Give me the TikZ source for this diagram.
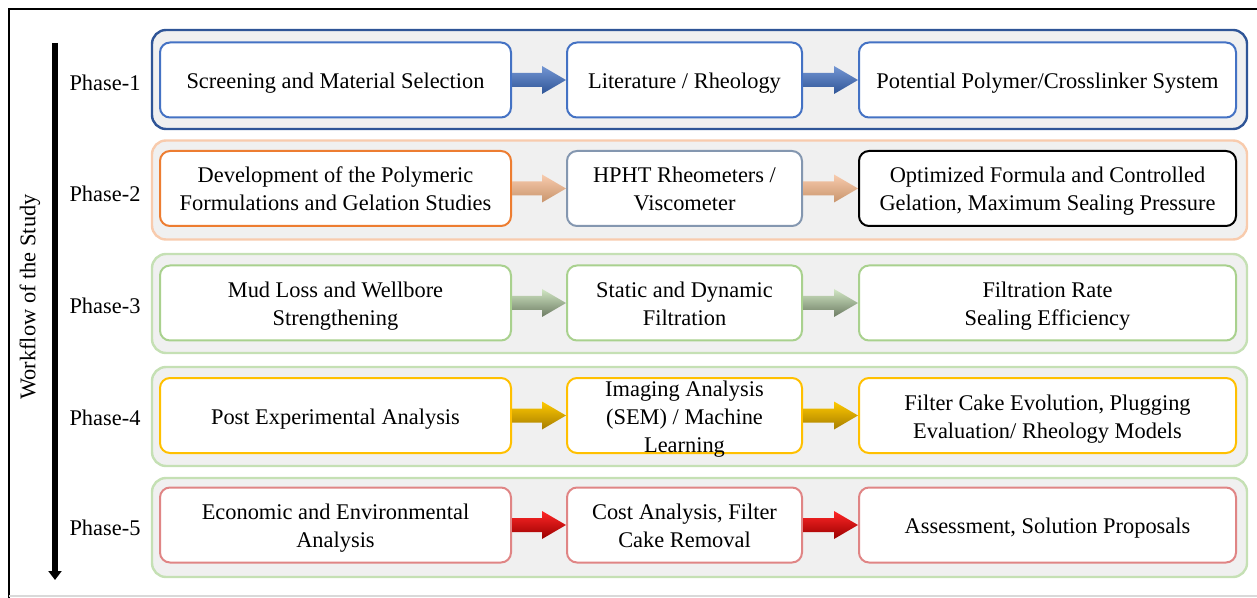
\documentclass[tikz,border=0pt]{standalone}
\usepackage{fontspec}
\setmainfont{Liberation Serif}
\usetikzlibrary{calc,arrows.meta}
\definecolor{navyedge}{HTML}{2F5597}
\definecolor{peachedge}{HTML}{F8CBAD}
\definecolor{tanshade}{HTML}{C8946C}
\definecolor{leafedge}{HTML}{C5E0B4}
\definecolor{blueline}{HTML}{4472C4}
\definecolor{orangeline}{HTML}{ED7D31}
\definecolor{slateline}{HTML}{8497B0}
\definecolor{greenline}{HTML}{A9D18E}
\definecolor{goldline}{HTML}{FFC000}
\definecolor{redline}{HTML}{E08585}
\begin{document}
\begin{tikzpicture}[x=0.5pt,y=-0.5pt]
        		\tikzstyle{panel}=[rounded corners=7pt,line width=1.2pt,fill=black!6,minimum width=547.5pt,minimum height=49.5pt]
        		\tikzstyle{stage}=[rounded corners=5pt,line width=1pt,fill=white,align=flush center,minimum height=37.5pt,inner xsep=3pt,font=\fontsize{11.2}{14}\selectfont,execute at begin node={\rule{0pt}{12pt}},execute at end node={\rule[-3.5pt]{0pt}{3.5pt}}]
        		\tikzstyle{first}=[stage,text width=169pt,minimum width=175.5pt]
        		\tikzstyle{middle}=[stage,text width=111pt,minimum width=117.5pt]
        		\tikzstyle{last}=[stage,text width=182pt,minimum width=188.5pt]
        		\tikzstyle{phase}=[font=\fontsize{11.2}{14}\selectfont]
        		\tikzstyle{flow}=[to path={($(\tikztostart.east)+(0,-7)$) -- ($(\tikztotarget.west)+(-24,-7)$) -- ($(\tikztotarget.west)+(-24,-14)$) -- (\tikztotarget.west) -- ($(\tikztotarget.west)+(-24,14)$) -- ($(\tikztotarget.west)+(-24,7)$) -- ($(\tikztostart.east)+(0,7)$) -- cycle}]
		        \useasboundingbox (0,0) rectangle (1257,598);
		        \draw[line width=1pt] (1257,9) -- (9,9) -- (9,598);
		        \draw[black!15,line width=0.8pt] (9,596) -- (1257,596);
		        \begin{scope}
			        % phase panels
			        \node [panel,draw=navyedge] (r1) at (699.5,79.5) {};
			        \node [panel,draw=peachedge] (r2) at (699.5,190) {};
			        \node [panel,draw=leafedge] (r3) at (699.5,303.5) {};
			        \node [panel,draw=leafedge] (r4) at (699.5,416.5) {};
			        \node [panel,draw=leafedge] (r5) at (699.5,527.5) {};
			        % side axis
			        \node [phase,rotate=90] (wf) at (30,297) {Workflow of the Study};
			        \coordinate (axtop) at (55,43);
			        \coordinate (axend) at (55,580);
			        \draw[line width=2.6pt,-{Triangle[length=4.5pt,width=6.5pt]}] (axtop) -- (axend);
			        \node [phase] (ph1) at (105,83) {Phase-1};
			        \node [phase] (ph2) at (105,194) {Phase-2};
			        \node [phase] (ph3) at (105,306) {Phase-3};
			        \node [phase] (ph4) at (105,418) {Phase-4};
			        \node [phase] (ph5) at (105,528) {Phase-5};
			        % phase 1
			        \node [first,draw=blueline] (s11) at (335.5,80) {Screening and Material Selection};
			        \node [middle,draw=blueline] (s12) at (684.5,80) {Literature / Rheology};
			        \node [last,draw=blueline] (s13) at (1047.5,80) {Potential Polymer/Crosslinker System};
			        % phase 2
			        \node [first,draw=orangeline] (s21) at (335.5,188.5) {Development of the Polymeric\\Formulations and Gelation Studies};
			        \node [middle,draw=slateline] (s22) at (684.5,188.5) {HPHT Rheometers /\\Viscometer};
			        \node [last,draw=black] (s23) at (1047.5,188.5) {Optimized Formula and Controlled\\Gelation, Maximum Sealing Pressure};
			        % phase 3
			        \node [first,draw=greenline] (s31) at (335.5,303) {Mud Loss and Wellbore\\Strengthening};
			        \node [middle,draw=greenline] (s32) at (684.5,303) {Static and Dynamic\\Filtration};
			        \node [last,draw=greenline] (s33) at (1047.5,303) {Filtration Rate\\Sealing Efficiency};
			        % phase 4
			        \node [first,draw=goldline] (s41) at (335.5,415.5) {Post Experimental Analysis};
			        \node [middle,draw=goldline,inner ysep=-3pt] (s42) at (684.5,415.5) {Imaging Analysis\\(SEM) / Machine\\Learning};
			        \node [last,draw=goldline] (s43) at (1047.5,415.5) {Filter Cake Evolution, Plugging\\Evaluation/ Rheology Models};
			        % phase 5
			        \node [first,draw=redline] (s51) at (335.5,525) {Economic and Environmental\\Analysis};
			        \node [middle,draw=redline] (s52) at (684.5,525) {Cost Analysis, Filter\\Cake Removal};
			        \node [last,draw=redline] (s53) at (1047.5,525) {Assessment, Solution Proposals};
			        % block arrows
			        \path[flow,top color=blueline!75!white,bottom color=navyedge] (s11) to (s12);
			        \path[flow,top color=blueline!75!white,bottom color=navyedge] (s12) to (s13);
			        \path[flow,top color=peachedge,bottom color=tanshade] (s21) to (s22);
			        \path[flow,top color=peachedge,bottom color=tanshade] (s22) to (s23);
			        \path[flow,top color=leafedge!80!white,bottom color=leafedge!55!black] (s31) to (s32);
			        \path[flow,top color=leafedge!80!white,bottom color=leafedge!55!black] (s32) to (s33);
			        \path[flow,top color=goldline!85!yellow,bottom color=goldline!65!black] (s41) to (s42);
			        \path[flow,top color=goldline!85!yellow,bottom color=goldline!65!black] (s42) to (s43);
			        \path[flow,top color=red!85!white,bottom color=red!60!black] (s51) to (s52);
			        \path[flow,top color=red!85!white,bottom color=red!60!black] (s52) to (s53);
		        \end{scope}
	        \end{tikzpicture}
\end{document}
